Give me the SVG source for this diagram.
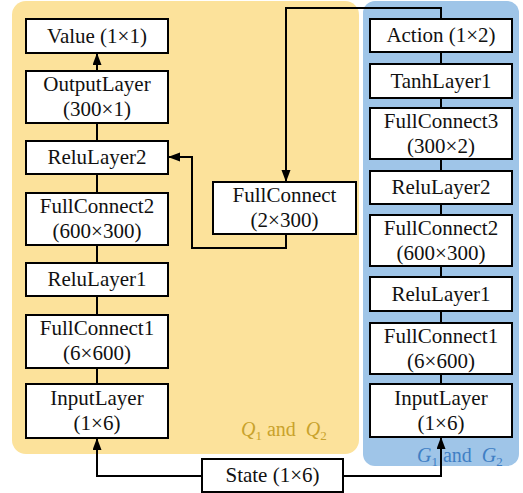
<svg xmlns="http://www.w3.org/2000/svg" width="523" height="493" viewBox="0 0 523 493">
  <defs>
    <marker id="arrow" markerUnits="userSpaceOnUse" markerWidth="12" markerHeight="10" refX="12" refY="4.5" orient="auto">
      <path d="M0,0 L12,4.5 L0,9 z" fill="#000"/>
    </marker>
    <style>
      .box { fill: #fff; stroke: #000; stroke-width: 2; }
      .lbl { font-family: 'Liberation Serif', 'DejaVu Serif', serif; font-size: 21px; fill: #111; text-anchor: middle; }
      .wire { fill: none; stroke: #000; stroke-width: 2; }
      .arr { marker-end: url(#arrow); }
      .cap { font-family: 'Liberation Serif', 'DejaVu Serif', serif; font-size: 20px; white-space: pre; }
      .it { font-style: italic; }
      .sub { font-size: 13px; }
    </style>
  </defs>

  <!-- background panels -->
  <rect id="panel-q" x="12" y="1" width="347" height="453" rx="14" fill="#FCE29B"/>
  <rect id="panel-g" x="363" y="1" width="156" height="465" rx="12" fill="#9FC5E8"/>

  <!-- connectors -->
  <g id="connectors">
    <!-- critic stack -->
    <path class="wire arr" d="M97,71 V53"/>
    <path class="wire" d="M97,123 V141"/>
    <path class="wire" d="M97,174 V193"/>
    <path class="wire" d="M97,245 V263"/>
    <path class="wire" d="M97,296 V315"/>
    <path class="wire" d="M97,368 V384"/>
    <!-- actor stack -->
    <path class="wire" d="M441,52 V64"/>
    <path class="wire" d="M441,98 V108"/>
    <path class="wire" d="M441,159 V171"/>
    <path class="wire" d="M441,204 V215"/>
    <path class="wire" d="M441,266 V277"/>
    <path class="wire" d="M441,311 V323"/>
    <path class="wire" d="M441,374 V384"/>
    <!-- state feeds both inputs -->
    <path class="wire arr" d="M202,476 H97 V438"/>
    <path class="wire arr" d="M343,476 H441 V437"/>
    <!-- action into critic -->
    <path class="wire arr" d="M441,19 V8 H286 V182"/>
    <path class="wire arr" d="M286,234 V248 H192 V157 H168"/>
  </g>

  <!-- critic network -->
  <g id="q-value">
    <rect class="box" x="26" y="19" width="142" height="34"/>
    <text class="lbl" x="97" y="43">Value (1×1)</text>
  </g>
  <g id="q-output">
    <rect class="box" x="26" y="71" width="142" height="52"/>
    <text class="lbl" x="97" y="91">OutputLayer</text>
    <text class="lbl" x="97" y="116">(300×1)</text>
  </g>
  <g id="q-relu2">
    <rect class="box" x="26" y="141" width="142" height="33"/>
    <text class="lbl" x="97" y="164">ReluLayer2</text>
  </g>
  <g id="q-fc2">
    <rect class="box" x="26" y="193" width="142" height="52"/>
    <text class="lbl" x="97" y="213">FullConnect2</text>
    <text class="lbl" x="97" y="238">(600×300)</text>
  </g>
  <g id="q-relu1">
    <rect class="box" x="26" y="263" width="142" height="33"/>
    <text class="lbl" x="97" y="286">ReluLayer1</text>
  </g>
  <g id="q-fc1">
    <rect class="box" x="26" y="315" width="142" height="53"/>
    <text class="lbl" x="97" y="335">FullConnect1</text>
    <text class="lbl" x="97" y="360">(6×600)</text>
  </g>
  <g id="q-input">
    <rect class="box" x="26" y="384" width="142" height="54"/>
    <text class="lbl" x="97" y="405">InputLayer</text>
    <text class="lbl" x="97" y="430">(1×6)</text>
  </g>
  <g id="q-action-fc">
    <rect class="box" x="213" y="182" width="143" height="52"/>
    <text class="lbl" x="284.5" y="202">FullConnect</text>
    <text class="lbl" x="284.5" y="227">(2×300)</text>
  </g>

  <!-- actor network -->
  <g id="g-action">
    <rect class="box" x="370" y="19" width="142" height="33"/>
    <text class="lbl" x="441" y="42">Action (1×2)</text>
  </g>
  <g id="g-tanh">
    <rect class="box" x="370" y="64" width="142" height="34"/>
    <text class="lbl" x="441" y="88">TanhLayer1</text>
  </g>
  <g id="g-fc3">
    <rect class="box" x="370" y="108" width="142" height="51"/>
    <text class="lbl" x="441" y="128">FullConnect3</text>
    <text class="lbl" x="441" y="153">(300×2)</text>
  </g>
  <g id="g-relu2">
    <rect class="box" x="370" y="171" width="142" height="33"/>
    <text class="lbl" x="441" y="194">ReluLayer2</text>
  </g>
  <g id="g-fc2">
    <rect class="box" x="370" y="215" width="142" height="51"/>
    <text class="lbl" x="441" y="235">FullConnect2</text>
    <text class="lbl" x="441" y="260">(600×300)</text>
  </g>
  <g id="g-relu1">
    <rect class="box" x="370" y="277" width="142" height="34"/>
    <text class="lbl" x="441" y="301">ReluLayer1</text>
  </g>
  <g id="g-fc1">
    <rect class="box" x="370" y="323" width="142" height="51"/>
    <text class="lbl" x="441" y="343">FullConnect1</text>
    <text class="lbl" x="441" y="368">(6×600)</text>
  </g>
  <g id="g-input">
    <rect class="box" x="370" y="384" width="142" height="53"/>
    <text class="lbl" x="441" y="405">InputLayer</text>
    <text class="lbl" x="441" y="430">(1×6)</text>
  </g>

  <!-- shared state input -->
  <g id="state">
    <rect class="box" x="202" y="459" width="141" height="33"/>
    <text class="lbl" x="272.5" y="482">State (1×6)</text>
  </g>

  <!-- panel captions -->
  <text class="cap" x="241" y="436" fill="#C9A22C"><tspan class="it">Q</tspan><tspan class="sub" dy="4">1</tspan><tspan dy="-4"> and  </tspan><tspan class="it">Q</tspan><tspan class="sub" dy="4">2</tspan></text>
  <text class="cap" x="417" y="462" fill="#3F7FC4"><tspan class="it">G</tspan><tspan class="sub" dy="4">1</tspan><tspan dy="-4"> and  </tspan><tspan class="it">G</tspan><tspan class="sub" dy="4">2</tspan></text>
</svg>
